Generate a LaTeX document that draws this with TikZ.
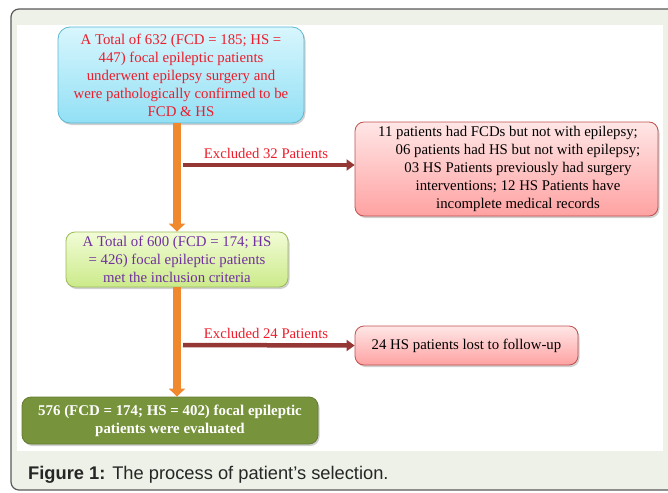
\documentclass[tikz,border=0pt]{standalone}
\usepackage{fontspec}
\setmainfont{Liberation Serif}
\newfontfamily\capfont{Liberation Sans}
\usetikzlibrary{arrows.meta,shadows,calc}
\definecolor{framebg}{HTML}{EDF1E7}
\definecolor{framedraw}{HTML}{5A5A5A}
\definecolor{txtred}{HTML}{EE1C2A}
\definecolor{txtpurple}{HTML}{7030A0}
\definecolor{orangearr}{HTML}{F0892E}
\definecolor{redarr}{HTML}{953735}
\definecolor{darkgreen}{HTML}{77933C}
\definecolor{HTMLblue}{HTML}{5CB8D3}
\definecolor{HTMLbluetop}{HTML}{D8F6FD}
\definecolor{HTMLbluebot}{HTML}{92E0F5}
\definecolor{HTMLpinkd}{HTML}{C0504D}
\definecolor{HTMLpinktop}{HTML}{FFE6E6}
\definecolor{HTMLpinkbot}{HTML}{FFA2A2}
\definecolor{HTMLgreend}{HTML}{9BBB59}
\definecolor{HTMLgreentop}{HTML}{F2FCD6}
\definecolor{HTMLgreenbot}{HTML}{CBEA8A}
\tikzset{
  box/.style={rounded corners=9pt, align=center, inner sep=2pt,
    font=\fontsize{14.8}{18}\selectfont, line width=0.8pt,
    drop shadow={shadow xshift=1.5pt, shadow yshift=-2pt, opacity=0.3, fill=black!60}},
  bluebox/.style={box, rounded corners=12pt, draw=HTMLblue, top color=HTMLbluetop, bottom color=HTMLbluebot, text=txtred},
  pinkbox/.style={box, draw=HTMLpinkd, top color=HTMLpinktop, bottom color=HTMLpinkbot, text=black},
  greenbox/.style={box, draw=HTMLgreend, top color=HTMLgreentop, bottom color=HTMLgreenbot, text=txtpurple},
  darkbox/.style={box, draw=darkgreen!85!black, fill=darkgreen, text=white, font=\fontsize{14.9}{18}\selectfont\bfseries},
  mainarrow/.style={line width=8pt, draw=orangearr, -{Triangle[width=16pt,length=8pt]}},
  exarrow/.style={line width=4.5pt, draw=redarr, -{Triangle[width=11pt,length=8pt]}},
  exlabel/.style={text=txtred, font=\fontsize{14.7}{16}\selectfont, inner sep=0pt}
}
\begin{document}
\begin{tikzpicture}[x=1pt,y=-1pt]
\clip (0,0) rectangle (668,492);
\fill[white] (0,0) rectangle (668,492);
% frame
\draw[rounded corners=8pt, line width=1.2pt, draw=framedraw, fill=framebg] (11,9) rectangle (700,490);
\fill[white] (17,25) rectangle (663,451);
% nodes
\node[bluebox, minimum width=246pt, minimum height=96pt] (b1) at (181,75)
  {A Total of 632 (FCD = 185; HS =\\447) focal epileptic patients\\underwent epilepsy surgery and\\were pathologically confirmed to be\\FCD \& HS};
\node[pinkbox, minimum width=303pt, minimum height=94pt] (p1) at (506.5,169)
  {\hspace*{3pt}11 patients had FCDs but not with epilepsy;\\\hspace*{23pt}06 patients had HS but not with epilepsy;\\\hspace*{23pt}03 HS Patients previously had surgery\\\hspace*{23pt}interventions; 12 HS Patients have\\\hspace*{23pt}incomplete medical records};
\node[greenbox, minimum width=222pt, minimum height=55pt] (b3) at (177,259.5)
  {A Total of 600 (FCD = 174; HS\\= 426) focal epileptic patients\\met the inclusion criteria};
\node[pinkbox, minimum width=223pt, minimum height=39pt] (p2) at (466.5,345.5)
  {24 HS patients lost to follow-up};
\node[darkbox, minimum width=296pt, minimum height=47pt] (b5) at (170,420.5)
  {576 (FCD = 174; HS = 402) focal epileptic\\patients were evaluated};
% main arrows
\draw[mainarrow] (b3.north |- b1.south) -- (b3.north);
\draw[mainarrow] (b3.south) -- (b3.south |- b5.north);
% exclusion arrows
\coordinate (c1) at (183,165);
\coordinate (c2) at (183,345);
\draw[exarrow] (c1) -- (c1 -| p1.west);
\draw[exarrow] (c2) -- (p2.west);
\node[exlabel, anchor=base] (l1) at (266,158) {Excluded 32 Patients};
\node[exlabel, anchor=base] (l2) at (266,338) {Excluded 24 Patients};
% caption
\node[anchor=base west, inner sep=0pt, text=black!85, font=\capfont\fontsize{18.3}{20}\selectfont] (cap) at (28,479)
  {\textbf{Figure 1:} The process of patient’s selection.};
\end{tikzpicture}
\end{document}
